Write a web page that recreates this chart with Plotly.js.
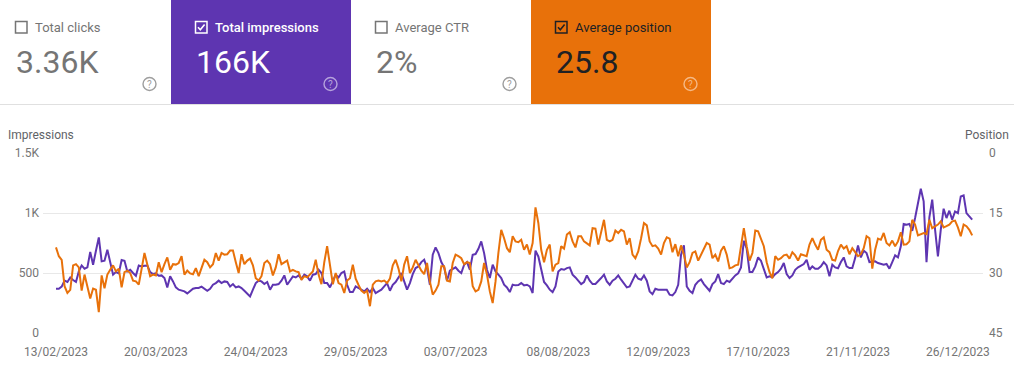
<!DOCTYPE html>
<html>
<head>
<meta charset="utf-8">
<script src="https://cdn.plot.ly/plotly-3.0.1.min.js"></script>
<style>
  html, body { margin: 0; padding: 0; background: #ffffff; }
  #chart { width: 1014px; height: 373px; }
</style>
</head>
<body>
<div id="chart"></div>
<script>
// ---------- data ----------
const startDate = '2023-02-13';

const impressions = [
  369, 369, 386, 436, 425, 463, 441, 425, 513, 563,
  536, 547, 675, 569, 686, 797, 597, 602, 694, 591,
  486, 508, 497, 608, 602, 513, 527, 500, 477, 563,
  555, 561, 563, 508, 491, 497, 477, 480, 458, 380,
  472, 430, 380, 361, 352, 347, 330, 347, 369, 375,
  375, 386, 369, 352, 369, 402, 416, 436, 416, 430,
  425, 388, 408, 380, 388, 375, 352, 324, 305, 361,
  416, 436, 430, 408, 425, 361, 402, 402, 408, 436,
  480, 402, 436, 472, 463, 480, 452, 486, 472, 436,
  486, 491, 527, 500, 416, 416, 380, 430, 486, 463,
  500, 513, 402, 341, 341, 388, 375, 355, 347, 369,
  341, 375, 333, 347, 361, 388, 416, 352, 402, 425,
  463, 500, 430, 361, 416, 491, 541, 555, 591, 611,
  541, 402, 652, 713, 666, 591, 547, 436, 519, 536,
  547, 519, 500, 569, 591, 527, 652, 658, 702, 763,
  666, 527, 458, 569, 513, 486, 458, 402, 380, 341,
  402, 397, 400, 416, 397, 402, 388, 333, 686, 638,
  541, 425, 397, 361, 341, 388, 513, 533, 527, 541,
  547, 486, 463, 436, 408, 425, 480, 436, 408, 408,
  430, 458, 486, 430, 402, 436, 452, 480, 444, 408,
  380, 388, 436, 486, 452, 444, 480, 436, 347, 324,
  369, 361, 361, 361, 361, 319, 313, 341, 402, 652,
  730, 388, 352, 333, 402, 430, 447, 408, 375, 352,
  408, 430, 491, 416, 408, 436, 425, 452, 480, 497,
  547, 769, 702, 508, 508, 555, 630, 602, 536, 463,
  472, 463, 491, 508, 536, 583, 491, 458, 480, 527,
  547, 563, 575, 611, 527, 555, 536, 536, 555, 591,
  563, 472, 569, 547, 540, 591, 630, 555, 541, 541,
  624, 730, 630, 686, 666, 591, 591, 597, 583, 575,
  569, 575, 536, 591, 647, 630, 722, 908, 902, 908,
  852, 958, 1097, 1202, 1097, 591, 963, 1111, 861, 638,
  861, 1036, 958, 1019, 944, 1013, 999, 1138, 1147, 999,
  972, 944
];

const position = [
  23.6, 25.8, 26.7, 33.3, 35.0, 34.2, 28.1, 27.8, 28.6, 34.4,
  30.4, 33.8, 36.4, 33.9, 34.2, 39.8, 30.6, 33.8, 30.4, 29.2,
  28.1, 29.6, 28.9, 33.6, 29.8, 29.4, 30.0, 31.9, 32.1, 32.9,
  28.9, 25.0, 27.9, 30.8, 30.4, 30.6, 27.3, 29.8, 27.8, 26.1,
  29.2, 27.8, 27.9, 27.5, 25.8, 30.4, 29.4, 30.1, 30.3, 28.8,
  30.8, 28.5, 26.7, 27.3, 28.6, 27.8, 25.0, 26.9, 25.0, 25.4,
  25.3, 24.4, 24.4, 27.3, 30.0, 25.3, 27.8, 26.9, 26.4, 28.1,
  31.3, 31.9, 30.8, 27.5, 26.9, 27.8, 30.6, 28.6, 25.3, 27.8,
  27.3, 26.9, 29.6, 29.2, 29.6, 29.8, 31.7, 30.8, 31.1, 30.4,
  29.6, 26.7, 30.4, 32.8, 27.3, 23.3, 27.5, 32.8, 30.0, 32.5,
  32.9, 35.0, 31.9, 31.3, 27.9, 31.4, 33.0, 34.4, 35.0, 34.4,
  38.3, 32.9, 32.1, 31.9, 32.1, 31.9, 32.5, 31.4, 28.1, 26.7,
  28.9, 32.1, 27.9, 25.8, 30.0, 28.6, 26.7, 28.1, 29.4, 30.3,
  27.5, 32.1, 35.4, 34.4, 32.9, 28.3, 28.3, 31.9, 32.1, 27.5,
  25.4, 25.8, 26.3, 27.8, 27.3, 27.5, 33.3, 34.6, 34.2, 32.1,
  27.5, 30.4, 34.6, 37.5, 32.1, 25.0, 19.2, 21.3, 23.8, 24.8,
  20.8, 22.1, 22.3, 21.7, 24.2, 22.9, 25.4, 22.5, 13.6, 17.5,
  24.2, 27.3, 24.2, 22.9, 29.6, 27.9, 27.5, 23.3, 23.9, 20.4,
  19.8, 22.1, 23.6, 20.8, 20.8, 22.1, 22.5, 23.1, 18.8, 18.9,
  22.9, 19.6, 16.7, 21.7, 22.1, 21.7, 19.4, 20.0, 19.2, 19.6,
  22.9, 21.3, 25.4, 26.3, 24.6, 21.3, 17.5, 18.1, 22.1, 23.3,
  23.1, 23.9, 25.4, 22.5, 21.1, 21.4, 24.8, 22.8, 25.8, 23.1,
  25.4, 28.6, 27.3, 25.0, 24.6, 26.9, 25.4, 24.2, 22.5, 22.9,
  26.3, 25.4, 27.1, 24.4, 23.3, 25.4, 28.8, 28.6, 28.1, 27.9,
  22.9, 18.8, 23.3, 26.9, 25.0, 19.4, 19.6, 21.7, 23.3, 27.3,
  29.8, 31.3, 25.8, 26.7, 26.3, 25.6, 25.4, 26.4, 24.8, 25.6,
  26.9, 25.3, 25.6, 25.8, 22.9, 21.3, 22.9, 24.2, 21.7, 21.1,
  24.2, 24.8, 26.7, 26.9, 24.5, 22.9, 23.9, 23.3, 25.3, 23.8,
  24.8, 25.8, 25.3, 23.8, 20.8, 21.3, 28.9, 24.2, 21.4, 21.7,
  20.0, 22.5, 23.1, 21.9, 23.3, 22.1, 19.8, 22.9, 22.8, 22.1,
  16.7, 17.9, 20.6, 20.3, 20.0, 20.3, 16.7, 18.8, 18.3, 17.9,
  17.1, 18.6, 18.3, 17.9, 17.1, 16.9, 18.6, 20.8, 17.9, 18.3,
  19.2, 20.6
];

const xTickDates = ['2023-02-13', '2023-03-20', '2023-04-24', '2023-05-29', '2023-07-03',
                    '2023-08-08', '2023-09-12', '2023-10-17', '2023-11-21', '2023-12-26'];
const xTickLabels = ['13/02/2023', '20/03/2023', '24/04/2023', '29/05/2023', '03/07/2023',
                     '08/08/2023', '12/09/2023', '17/10/2023', '21/11/2023', '26/12/2023'];
const impTickVals = [0, 500, 1000, 1500];
const impTickLabels = ['0', '500', '1K', '1.5K'];
const posTickVals = [0, 15, 30, 45];
const posTickLabels = ['0', '15', '30', '45'];

const cardLabels = ['Total clicks', 'Total impressions', 'Average CTR', 'Average position'];
const cardValues = ['3.36K', '166K', '2%', '25.8'];
const cardSelected = [false, true, false, true];

// ---------- build ----------
const dates = impressions.map((_, i) => {
  const d = new Date(startDate + 'T00:00:00Z');
  d.setUTCDate(d.getUTCDate() + i);
  return d.toISOString().slice(0, 10);
});

const W = 1014, H = 373;
const L = 43, R = 983, T = 153, B = 333;
const X = px => (px - L) / (R - L);
const Y = py => (B - py) / (B - T);

const PURPLE = '#5e35b1';
const ORANGE = '#e8710a';
const GREY = '#757575';
const FONT = 'Roboto, Arial, sans-serif';

const shapes = [];
const annotations = [];

// cards
const cardX = [0, 171, 352, 531];
const cardW = [170, 180, 178, 180];
const cardBg = [null, PURPLE, null, ORANGE];
const cardLabelColor = [GREY, '#ffffff', GREY, '#202124'];
const cardValueColor = [GREY, '#ffffff', GREY, '#202124'];
const cardBoxColor = ['#757575', '#ffffff', '#757575', '#202124'];
const cardHelpColor = ['#9e9e9e', '#b5a2dc', '#9e9e9e', '#f5b985'];
const cardLabelWeight = [400, 500, 400, 400];

for (let i = 0; i < 4; i++) {
  const x0 = cardX[i];
  if (cardBg[i]) {
    shapes.push({type: 'rect', xref: 'paper', yref: 'paper', layer: 'below',
      x0: X(x0), x1: X(x0 + cardW[i]), y0: Y(104), y1: Y(0),
      fillcolor: cardBg[i], line: {width: 0}});
  }
  const bx = x0 + 15 + (i === 1 ? 9 : 0) + (i === 3 ? 9 : 0) + (i === 2 ? 8 : 0);
  // checkbox
  shapes.push({type: 'rect', xref: 'paper', yref: 'paper',
    x0: X(bx + 0.5), x1: X(bx + 12), y0: Y(33), y1: Y(21.5),
    line: {color: cardBoxColor[i], width: 1.5}, fillcolor: 'rgba(0,0,0,0)'});
  if (cardSelected[i]) {
    shapes.push({type: 'path', xref: 'paper', yref: 'paper',
      path: `M ${X(bx + 3)} ${Y(27.3)} L ${X(bx + 5.3)} ${Y(29.8)} L ${X(bx + 9.6)} ${Y(24.5)}`,
      line: {color: cardBoxColor[i], width: 1.6}});
  }
  annotations.push({xref: 'paper', yref: 'paper', x: X(bx + 18), y: Y(27),
    xanchor: 'left', yanchor: 'middle', showarrow: false, text: cardLabels[i],
    font: {family: FONT, size: 13, color: cardLabelColor[i], weight: cardLabelWeight[i]}});
  annotations.push({xref: 'paper', yref: 'paper', x: X(bx - 1), y: Y(62),
    xanchor: 'left', yanchor: 'middle', showarrow: false, text: cardValues[i],
    font: {family: FONT, size: 32, color: cardValueColor[i]}});
  // help icon
  const hx = x0 + cardW[i] - 20.5;
  shapes.push({type: 'circle', xref: 'paper', yref: 'paper',
    x0: X(hx - 6.5), x1: X(hx + 6.5), y0: Y(90.5), y1: Y(77.5),
    line: {color: cardHelpColor[i], width: 1.4}});
  annotations.push({xref: 'paper', yref: 'paper', x: X(hx), y: Y(84.3),
    xanchor: 'center', yanchor: 'middle', showarrow: false, text: '?',
    font: {family: FONT, size: 10, color: cardHelpColor[i]}});
}
// separator under cards
shapes.push({type: 'line', xref: 'paper', yref: 'paper',
  x0: X(0), x1: X(W), y0: Y(104.5), y1: Y(104.5), line: {color: '#e0e0e0', width: 1}});

// axis titles
annotations.push({xref: 'paper', yref: 'paper', x: X(6), y: Y(135),
  xanchor: 'left', yanchor: 'middle', showarrow: false, text: 'Impressions',
  font: {family: FONT, size: 12, color: '#5f6368'}});
annotations.push({xref: 'paper', yref: 'paper', x: X(1011), y: Y(135),
  xanchor: 'right', yanchor: 'middle', showarrow: false, text: 'Position',
  font: {family: FONT, size: 12, color: '#5f6368'}});

const traces = [
  {x: dates, y: impressions, type: 'scatter', mode: 'lines', name: 'Impressions',
   line: {color: PURPLE, width: 2}, yaxis: 'y', hoverinfo: 'skip'},
  {x: dates, y: position, type: 'scatter', mode: 'lines', name: 'Position',
   line: {color: ORANGE, width: 2}, yaxis: 'y2', hoverinfo: 'skip'}
];

const layout = {
  width: W, height: H,
  margin: {l: L, r: W - R, t: T, b: H - B, pad: 0},
  paper_bgcolor: '#ffffff', plot_bgcolor: '#ffffff',
  showlegend: false,
  font: {family: FONT, size: 12, color: GREY},
  xaxis: {
    type: 'date',
    range: ['2023-02-08 10:48', '2024-01-03 19:00'],
    tickvals: xTickDates, ticktext: xTickLabels,
    showgrid: false, zeroline: false, showline: false, ticks: '',
    ticklabelstandoff: 10,
    tickfont: {family: FONT, size: 12, color: GREY}
  },
  yaxis: {
    range: [0, 1500], tickvals: impTickVals, ticktext: impTickLabels,
    showgrid: true, gridcolor: '#e8e8e8', gridwidth: 1,
    zeroline: false, showline: false, ticks: '',
    ticklabelstandoff: 3,
    tickfont: {family: FONT, size: 12, color: GREY}
  },
  yaxis2: {
    overlaying: 'y', side: 'right',
    range: [45, 0], tickvals: posTickVals, ticktext: posTickLabels,
    showgrid: false, zeroline: false, showline: false, ticks: '',
    ticklabelstandoff: 5,
    tickfont: {family: FONT, size: 12, color: GREY}
  },
  shapes: shapes,
  annotations: annotations
};

Plotly.newPlot('chart', traces, layout, {displayModeBar: false, staticPlot: true});
</script>
</body>
</html>
